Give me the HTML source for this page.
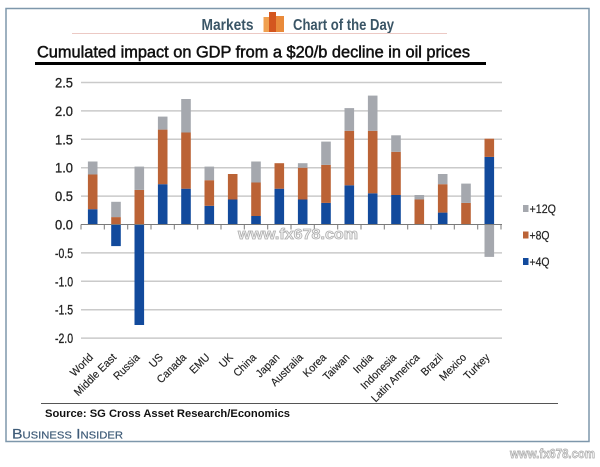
<!DOCTYPE html>
<html><head><meta charset="utf-8"><style>
html,body{margin:0;padding:0;background:#fff;}
svg{display:block;}
text{font-family:"Liberation Sans",Arial,sans-serif;}
</style></head><body>
<svg width="600" height="467" viewBox="0 0 600 467" xmlns="http://www.w3.org/2000/svg">
<rect x="0" y="0" width="600" height="467" fill="#fff"/>
<!-- frame -->
<rect x="6" y="8.5" width="583" height="433" fill="#fff" stroke="#7e97ab" stroke-width="1.5"/>
<!-- header -->
<text x="201.5" y="30" font-size="16" font-weight="bold" fill="#3a5566" textLength="52" lengthAdjust="spacingAndGlyphs">Markets</text>
<rect x="263.5" y="17" width="6" height="15" fill="#f0a050"/>
<rect x="269" y="12" width="7" height="20" fill="#d4561e"/>
<rect x="276" y="16" width="8" height="16" fill="#e98a3a"/>
<text x="293" y="30" font-size="16" font-weight="bold" fill="#3a5566" textLength="101" lengthAdjust="spacingAndGlyphs">Chart of the Day</text>
<line x1="72" y1="33.5" x2="447" y2="33.5" stroke="#ecc9c4" stroke-width="1"/>
<!-- title -->
<text x="37" y="57.5" font-size="16.3" fill="#111" stroke="#111" stroke-width="0.5" textLength="433" lengthAdjust="spacingAndGlyphs">Cumulated impact on GDP from a $20/b decline in oil prices</text>
<line x1="35" y1="63.5" x2="486" y2="63.5" stroke="#000" stroke-width="3"/>
<!-- gridlines -->
<g stroke="#cacaca" stroke-width="1.5">
<line x1="81" y1="82.5" x2="502" y2="82.5"/>
<line x1="81" y1="110.9" x2="502" y2="110.9"/>
<line x1="81" y1="139.3" x2="502" y2="139.3"/>
<line x1="81" y1="167.7" x2="502" y2="167.7"/>
<line x1="81" y1="196.1" x2="502" y2="196.1"/>
<line x1="81" y1="252.9" x2="502" y2="252.9"/>
<line x1="81" y1="281.3" x2="502" y2="281.3"/>
<line x1="81" y1="309.7" x2="502" y2="309.7"/>
<line x1="81" y1="338.1" x2="502" y2="338.1"/>
</g>
<!-- y labels -->
<g font-size="14" fill="#222" stroke="#222" stroke-width="0.3" text-anchor="end">
<text x="73" y="87.5" textLength="18" lengthAdjust="spacingAndGlyphs">2.5</text>
<text x="73" y="115.9" textLength="18" lengthAdjust="spacingAndGlyphs">2.0</text>
<text x="73" y="144.3" textLength="18" lengthAdjust="spacingAndGlyphs">1.5</text>
<text x="73" y="172.7" textLength="18" lengthAdjust="spacingAndGlyphs">1.0</text>
<text x="73" y="201.1" textLength="18" lengthAdjust="spacingAndGlyphs">0.5</text>
<text x="73" y="229.5" textLength="18" lengthAdjust="spacingAndGlyphs">0.0</text>
<text x="73" y="257.9" textLength="18" lengthAdjust="spacingAndGlyphs">-0.5</text>
<text x="73" y="286.3" textLength="18" lengthAdjust="spacingAndGlyphs">-1.0</text>
<text x="73" y="314.7" textLength="18" lengthAdjust="spacingAndGlyphs">-1.5</text>
<text x="73" y="343.1" textLength="18" lengthAdjust="spacingAndGlyphs">-2.0</text>
</g>
<!-- bars: blue -->
<g fill="#124a9c">
<rect x="87.9" y="209.2" width="9.6" height="15.3"/>
<rect x="111.2" y="224.5" width="9.6" height="21.6"/>
<rect x="134.5" y="224.5" width="9.6" height="100.5"/>
<rect x="157.9" y="184.2" width="9.6" height="40.3"/>
<rect x="181.2" y="188.7" width="9.6" height="35.8"/>
<rect x="204.5" y="205.8" width="9.6" height="18.7"/>
<rect x="227.9" y="199.5" width="9.6" height="25"/>
<rect x="251.2" y="216.0" width="9.6" height="8.5"/>
<rect x="274.5" y="188.7" width="9.6" height="35.8"/>
<rect x="297.9" y="199.5" width="9.6" height="25"/>
<rect x="321.2" y="202.9" width="9.6" height="21.6"/>
<rect x="344.5" y="185.3" width="9.6" height="39.2"/>
<rect x="367.9" y="193.3" width="9.6" height="31.2"/>
<rect x="391.2" y="195.0" width="9.6" height="29.5"/>
<rect x="437.9" y="212.6" width="9.6" height="11.9"/>
<rect x="484.5" y="156.9" width="9.6" height="67.6"/>
</g>
<!-- bars: orange -->
<g fill="#bb6336">
<rect x="87.9" y="174.5" width="9.6" height="34.7"/>
<rect x="111.2" y="217.1" width="9.6" height="7.4"/>
<rect x="134.5" y="189.9" width="9.6" height="34.6"/>
<rect x="157.9" y="129.6" width="9.6" height="54.6"/>
<rect x="181.2" y="132.5" width="9.6" height="56.2"/>
<rect x="204.5" y="180.2" width="9.6" height="25.6"/>
<rect x="227.9" y="174.0" width="9.6" height="25.5"/>
<rect x="251.2" y="182.5" width="9.6" height="33.5"/>
<rect x="274.5" y="163.2" width="9.6" height="25.5"/>
<rect x="297.9" y="167.7" width="9.6" height="31.8"/>
<rect x="321.2" y="164.9" width="9.6" height="38"/>
<rect x="344.5" y="130.8" width="9.6" height="54.5"/>
<rect x="367.9" y="130.8" width="9.6" height="62.5"/>
<rect x="391.2" y="151.8" width="9.6" height="43.2"/>
<rect x="414.5" y="199.5" width="9.6" height="25"/>
<rect x="437.9" y="184.2" width="9.6" height="28.4"/>
<rect x="461.2" y="202.9" width="9.6" height="21.6"/>
<rect x="484.5" y="138.7" width="9.6" height="18.2"/>
</g>
<!-- bars: gray -->
<g fill="#a5a8ae">
<rect x="87.9" y="161.5" width="9.6" height="13"/>
<rect x="111.2" y="201.8" width="9.6" height="15.3"/>
<rect x="134.5" y="166.6" width="9.6" height="23.3"/>
<rect x="157.9" y="116.6" width="9.6" height="13"/>
<rect x="181.2" y="99.0" width="9.6" height="33.5"/>
<rect x="204.5" y="166.6" width="9.6" height="13.6"/>
<rect x="251.2" y="161.5" width="9.6" height="21"/>
<rect x="297.9" y="163.2" width="9.6" height="4.5"/>
<rect x="321.2" y="141.6" width="9.6" height="23.3"/>
<rect x="344.5" y="108.1" width="9.6" height="22.7"/>
<rect x="367.9" y="95.6" width="9.6" height="35.2"/>
<rect x="391.2" y="135.3" width="9.6" height="16.5"/>
<rect x="414.5" y="195.0" width="9.6" height="4.5"/>
<rect x="437.9" y="174.0" width="9.6" height="10.2"/>
<rect x="461.2" y="183.6" width="9.6" height="19.3"/>
<rect x="484.5" y="224.5" width="9.6" height="32.4"/>
</g>
<!-- x axis -->
<g stroke="#7a7a7a" stroke-width="1">
<line x1="81" y1="224.5" x2="502" y2="224.5"/>
<line x1="81" y1="224.5" x2="81" y2="229.5"/>
<line x1="104.3" y1="224.5" x2="104.3" y2="229.5"/>
<line x1="127.7" y1="224.5" x2="127.7" y2="229.5"/>
<line x1="151" y1="224.5" x2="151" y2="229.5"/>
<line x1="174.3" y1="224.5" x2="174.3" y2="229.5"/>
<line x1="197.7" y1="224.5" x2="197.7" y2="229.5"/>
<line x1="221" y1="224.5" x2="221" y2="229.5"/>
<line x1="244.3" y1="224.5" x2="244.3" y2="229.5"/>
<line x1="267.7" y1="224.5" x2="267.7" y2="229.5"/>
<line x1="291" y1="224.5" x2="291" y2="229.5"/>
<line x1="314.3" y1="224.5" x2="314.3" y2="229.5"/>
<line x1="337.7" y1="224.5" x2="337.7" y2="229.5"/>
<line x1="361" y1="224.5" x2="361" y2="229.5"/>
<line x1="384.3" y1="224.5" x2="384.3" y2="229.5"/>
<line x1="407.7" y1="224.5" x2="407.7" y2="229.5"/>
<line x1="431" y1="224.5" x2="431" y2="229.5"/>
<line x1="454.3" y1="224.5" x2="454.3" y2="229.5"/>
<line x1="477.7" y1="224.5" x2="477.7" y2="229.5"/>
<line x1="501" y1="224.5" x2="501" y2="229.5"/>
</g>
<!-- watermark center -->
<text x="238" y="239" font-size="15" font-weight="bold" fill="#f4f4f4" stroke="#b0b0b0" stroke-width="0.8" textLength="120" lengthAdjust="spacingAndGlyphs">www.fx678.com</text>
<!-- x labels -->
<g font-size="11" fill="#222" text-anchor="end" stroke="#222" stroke-width="0.15">
<text transform="translate(93.7,358) rotate(-45) scale(0.95,1)">World</text>
<text transform="translate(117,358) rotate(-45) scale(0.95,1)">Middle East</text>
<text transform="translate(140.3,358) rotate(-45) scale(0.95,1)">Russia</text>
<text transform="translate(163.7,358) rotate(-45) scale(0.95,1)">US</text>
<text transform="translate(187,358) rotate(-45) scale(0.95,1)">Canada</text>
<text transform="translate(210.3,358) rotate(-45) scale(0.95,1)">EMU</text>
<text transform="translate(233.7,358) rotate(-45) scale(0.95,1)">UK</text>
<text transform="translate(257,358) rotate(-45) scale(0.95,1)">China</text>
<text transform="translate(280.3,358) rotate(-45) scale(0.95,1)">Japan</text>
<text transform="translate(303.7,358) rotate(-45) scale(0.95,1)">Australia</text>
<text transform="translate(327,358) rotate(-45) scale(0.95,1)">Korea</text>
<text transform="translate(350.3,358) rotate(-45) scale(0.95,1)">Taiwan</text>
<text transform="translate(373.7,358) rotate(-45) scale(0.95,1)">India</text>
<text transform="translate(397,358) rotate(-45) scale(0.95,1)">Indonesia</text>
<text transform="translate(420.3,358) rotate(-45) scale(0.95,1)">Latin America</text>
<text transform="translate(443.7,358) rotate(-45) scale(0.95,1)">Brazil</text>
<text transform="translate(467,358) rotate(-45) scale(0.95,1)">Mexico</text>
<text transform="translate(490.3,358) rotate(-45) scale(0.95,1)">Turkey</text>
</g>
<!-- legend -->
<rect x="523" y="205" width="5.5" height="7" fill="#a5a8ae"/>
<rect x="523" y="231.5" width="5.5" height="7" fill="#bb6336"/>
<rect x="523" y="258" width="5.5" height="7" fill="#124a9c"/>
<g font-size="12" fill="#222" stroke="#222" stroke-width="0.2">
<text x="529.5" y="213" textLength="26.5" lengthAdjust="spacingAndGlyphs">+12Q</text>
<text x="529.5" y="239.5" textLength="20" lengthAdjust="spacingAndGlyphs">+8Q</text>
<text x="529.5" y="266" textLength="20" lengthAdjust="spacingAndGlyphs">+4Q</text>
</g>
<!-- source -->
<line x1="41" y1="403.5" x2="558" y2="403.5" stroke="#555" stroke-width="1"/>
<text x="45" y="417" font-size="11" font-weight="bold" fill="#111" textLength="245" lengthAdjust="spacingAndGlyphs">Source: SG Cross Asset Research/Economics</text>
<text x="12" y="438.3" font-family="Liberation Serif, serif" font-size="14" fill="#3e5b78" stroke="#3e5b78" stroke-width="0.2" style="font-variant:small-caps" textLength="111" lengthAdjust="spacingAndGlyphs">Business Insider</text>
<!-- watermark bottom right -->
<text x="510" y="458" font-size="13" font-weight="bold" fill="#f2f2f2" stroke="#a8a8a8" stroke-width="0.7" textLength="85" lengthAdjust="spacingAndGlyphs">www.fx678.com</text>
</svg>
</body></html>
